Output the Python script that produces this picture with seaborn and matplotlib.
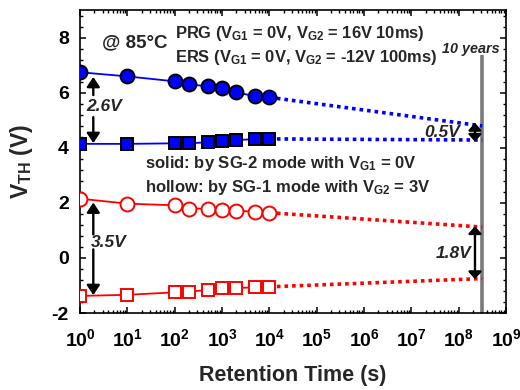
import numpy as np
import pandas as pd
import matplotlib
matplotlib.use("Agg")
import matplotlib.pyplot as plt
from matplotlib.ticker import FixedLocator, FixedFormatter, LogLocator, MultipleLocator, NullFormatter
import seaborn as sns

# ---- data ----
t = [1, 10, 100, 200, 500, 1000, 2000, 5000, 10000]
prg_solid = [6.74, 6.59, 6.41, 6.30, 6.23, 6.16, 6.01, 5.87, 5.83]
ers_solid = [4.14, 4.14, 4.16, 4.16, 4.20, 4.23, 4.28, 4.31, 4.32]
prg_hollow = [2.15, 1.97, 1.91, 1.79, 1.79, 1.75, 1.72, 1.67, 1.64]
ers_hollow = [-1.38, -1.34, -1.25, -1.22, -1.17, -1.11, -1.10, -1.06, -1.05]

t_10y = 3.15e8
extrap_end = {"prg_solid": 4.79, "ers_solid": 4.28, "prg_hollow": 1.12, "ers_hollow": -0.75}

xticks = [1e0, 1e1, 1e2, 1e3, 1e4, 1e5, 1e6, 1e7, 1e8, 1e9]
xticklabels = [r"$10^{%d}$" % i for i in range(10)]
yticks = [-2, 0, 2, 4, 6, 8]
yticklabels = ["-2", "0", "2", "4", "6", "8"]

# ---- style ----
sns.set_theme(style="ticks")
plt.rcParams["font.family"] = ["Liberation Sans", "DejaVu Sans"]
plt.rcParams["font.weight"] = "bold"
plt.rcParams["mathtext.fontset"] = "custom"
plt.rcParams["mathtext.rm"] = "Liberation Sans:bold"
plt.rcParams["mathtext.it"] = "Liberation Sans:bold"
plt.rcParams["mathtext.bf"] = "Liberation Sans:bold"
plt.rcParams["mathtext.default"] = "rm"
plt.rcParams["axes.unicode_minus"] = False

fig = plt.figure(figsize=(5.2, 3.9), dpi=100)
ax = fig.add_axes([80/520, 1-313/390, 426/520, 303/390])
ax.set_xscale("log")

BLUE = "#0000ff"
RED = "#ff0000"

series = [
    (prg_solid, "prg_solid", BLUE, "o", BLUE, "black", 10),
    (ers_solid, "ers_solid", BLUE, "s", BLUE, "black", 8.8),
    (prg_hollow, "prg_hollow", RED, "o", "white", RED, 10),
    (ers_hollow, "ers_hollow", RED, "s", "white", RED, 8.8),
]
for vals, key, col, mk, fc, ec, ms in series:
    sns.lineplot(x=[t[-1], t_10y], y=[vals[-1], extrap_end[key]], ax=ax,
                 color=col, lw=2.6, linestyle=(0, (1, 1.1)), zorder=2)
    sns.lineplot(x=t, y=vals, ax=ax, color=col, lw=1.3, marker=mk,
                 markersize=ms, markerfacecolor=fc, markeredgecolor=ec,
                 markeredgewidth=1.4, zorder=3)

# 10 years line
ax.vlines(t_10y, -2, 7.35, color="#7a7a7a", lw=2.6, zorder=1)

ax.set_xlim(1, 1e9)
ax.set_ylim(-2, 9)
ax.xaxis.set_major_locator(FixedLocator(xticks))
ax.xaxis.set_major_formatter(FixedFormatter(xticklabels))
ax.xaxis.set_minor_locator(LogLocator(base=10, subs=np.arange(2, 10), numticks=20))
ax.xaxis.set_minor_formatter(NullFormatter())
ax.yaxis.set_major_locator(FixedLocator(yticks))
ax.yaxis.set_major_formatter(FixedFormatter(yticklabels))
ax.yaxis.set_minor_locator(MultipleLocator(0.4))

ax.tick_params(which="both", direction="in", top=True, right=True, colors="black",
               labelsize=14)
ax.tick_params(which="major", length=4.5, width=1.1)
ax.tick_params(axis="x", which="major", pad=11)
ax.tick_params(axis="y", which="major", pad=8)
ax.tick_params(which="minor", length=2.3, width=1.0)
for s in ax.spines.values():
    s.set_linewidth(1.2)
    s.set_color("black")
for lab in ax.get_xticklabels() + ax.get_yticklabels():
    lab.set_fontweight("bold")

ax.set_xlabel("Retention Time (s)", fontsize=15.5, fontweight="bold", labelpad=11)
ax.set_ylabel(r"V$_{\mathrm{TH}}$ (V)", fontsize=16.5, fontweight="bold", labelpad=12)

# texts
tr = ax.transAxes
ax.text(0.052, 0.876, "@ 85°C", transform=tr, fontsize=13.5, fontweight="bold")
ax.text(0.223, 0.907, r"PRG (V$_{G1}$ = 0V, V$_{G2}$ = 16V 10ms)", transform=tr,
        fontsize=11.9, fontweight="bold")
ax.text(0.223, 0.830, r"ERS (V$_{G1}$ = 0V, V$_{G2}$ = -12V 100ms)", transform=tr,
        fontsize=11.9, fontweight="bold")
ax.text(0.153, 0.477, r"solid: by SG-2 mode with V$_{G1}$ = 0V", transform=tr,
        fontsize=12, fontweight="bold")
ax.text(0.153, 0.400, r"hollow: by SG-1 mode with V$_{G2}$ = 3V", transform=tr,
        fontsize=12, fontweight="bold")
ax.text(0.986, 0.859, "10 years", transform=tr, fontsize=10.4, fontweight="bold",
        fontstyle="italic", ha="right")

lab_kw = dict(transform=tr, fontsize=12.5, fontweight="bold", fontstyle="italic", va="center")
ax.text(0.014, 0.681, "2.6V", **lab_kw)
ax.text(0.025, 0.232, "3.5V", **lab_kw)
ax.text(0.892, 0.597, "0.5V", ha="right", **lab_kw)
ax.text(0.920, 0.198, "1.8V", ha="right", **lab_kw)

arrow = dict(arrowstyle="-|>,head_length=0.45,head_width=0.3", color="black", lw=1.7,
             shrinkA=0, shrinkB=0, mutation_scale=13)
darrow = dict(arrowstyle="<|-|>,head_length=0.33,head_width=0.3", color="black", lw=1.7,
              shrinkA=0, shrinkB=0, mutation_scale=13)
xl = 1.91
ax.annotate("", xy=(xl, 6.57), xytext=(xl, 5.91), arrowprops=arrow)
ax.annotate("", xy=(xl, 4.17), xytext=(xl, 5.11), arrowprops=arrow)
ax.annotate("", xy=(xl, 2.01), xytext=(xl, 0.85), arrowprops=arrow)
ax.annotate("", xy=(xl, -1.35), xytext=(xl, 0.31), arrowprops=arrow)
xr = 2.21e8
ax.annotate("", xy=(xr, 4.90), xytext=(xr, 4.22), arrowprops=darrow)
ax.annotate("", xy=(xr, 1.15), xytext=(xr, -0.77), arrowprops=darrow)

fig.savefig("out.png", dpi=100)
